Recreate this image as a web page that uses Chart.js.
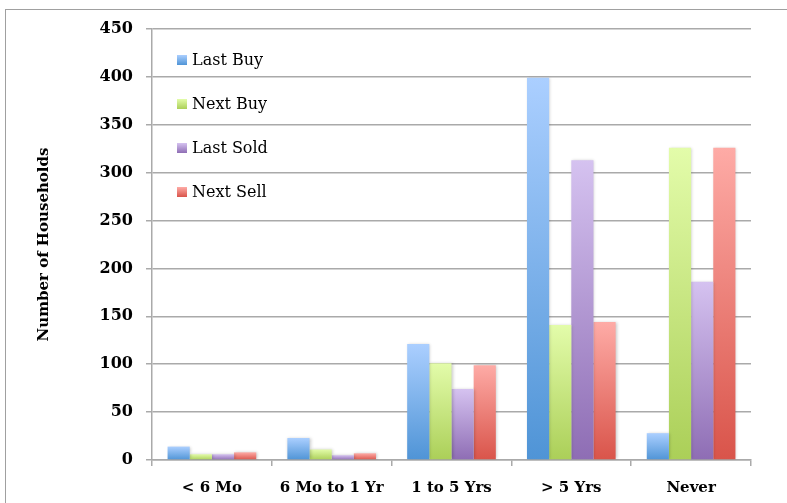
<!DOCTYPE html>
<html>
<head>
<meta charset="utf-8">
<script src="https://cdn.jsdelivr.net/npm/chart.js@4"></script>
<style>
  html, body { margin: 0; padding: 0; background: #fff; overflow: hidden; }
  #wrap { position: relative; width: 787px; height: 503px; }
  #frame { position: absolute; left: 5px; top: 9px; width: 900px; height: 600px; border: 1px solid #a0a0a0; box-sizing: border-box; }
  canvas { position: absolute; left: 0; top: 0; }
</style>
</head>
<body>
<div id="wrap">
  <div id="frame"></div>
  <canvas id="chart" width="787" height="503"></canvas>
</div>
<script>
const categories = ['< 6 Mo', '6 Mo to 1 Yr', '1 to 5 Yrs', '> 5 Yrs', 'Never'];
const lastBuy = [14, 23, 121, 399, 28];
const nextBuy = [6, 11, 101, 141, 326];
const lastSold = [6, 5, 74, 313, 186];
const nextSell = [8, 7, 99, 144, 326];
const seriesNames = ['Last Buy', 'Next Buy', 'Last Sold', 'Next Sell'];
const colorsTop = ['#abcfff', '#e3fcaa', '#d5c2f0', '#feaba6'];
const colorsBottom = ['#4f94d6', '#abcf58', '#8e6db4', '#d9544a'];

const serif = '"DejaVu Serif", serif';

// vertical gradient per bar, light at the top, darker at the base
function barFill(i) {
  return function (c) {
    const chart = c.chart;
    if (!chart.chartArea || c.type !== 'data') return colorsBottom[i];
    const y = chart.scales.y;
    const top = y.getPixelForValue(c.raw);
    const base = y.getPixelForValue(0);
    const g = chart.ctx.createLinearGradient(0, top, 0, base);
    g.addColorStop(0, colorsTop[i]);
    g.addColorStop(1, colorsBottom[i]);
    return g;
  };
}

const barShadow = {
  id: 'barShadow',
  beforeDatasetsDraw(chart) {
    const ctx = chart.ctx;
    ctx.save();
    ctx.shadowColor = 'rgba(0,0,0,0.22)';
    ctx.shadowBlur = 3;
    ctx.shadowOffsetX = 1;
    ctx.shadowOffsetY = 0;
  },
  afterDatasetsDraw(chart) {
    chart.ctx.restore();
  }
};

const insideLegend = {
  id: 'insideLegend',
  afterDraw(chart) {
    const ctx = chart.ctx;
    ctx.save();
    ctx.font = '16px ' + serif;
    ctx.textBaseline = 'middle';
    chart.data.datasets.forEach((ds, i) => {
      const cy = 60 + i * 44;
      const g = ctx.createLinearGradient(0, cy - 5, 0, cy + 5);
      g.addColorStop(0, colorsTop[i]);
      g.addColorStop(1, colorsBottom[i]);
      ctx.fillStyle = g;
      ctx.fillRect(177, cy - 5, 10, 10);
      ctx.fillStyle = '#000';
      ctx.fillText(ds.label, 192, cy + 1);
    });
    ctx.restore();
  }
};

const values = [lastBuy, nextBuy, lastSold, nextSell];

new Chart(document.getElementById('chart').getContext('2d'), {
  type: 'bar',
  data: {
    labels: categories,
    datasets: values.map((v, i) => ({
      label: seriesNames[i],
      data: v,
      backgroundColor: barFill(i),
      borderWidth: 0,
      barPercentage: 1,
      categoryPercentage: 0.74
    }))
  },
  options: {
    responsive: false,
    animation: false,
    layout: { padding: { top: 29, right: 36, bottom: 0, left: 0 } },
    plugins: {
      legend: { display: false },
      tooltip: { enabled: false }
    },
    scales: {
      x: {
        afterFit(s) { s.height = 43; },
        grid: { offset: true, drawOnChartArea: false, drawTicks: true, tickLength: 6, color: '#aaaaaa', lineWidth: 1.5 },
        border: { color: '#aaaaaa', width: 1.5 },
        ticks: { color: '#000', padding: 13, font: { family: serif, size: 15, weight: 'bold' } }
      },
      y: {
        min: 0,
        max: 450,
        afterFit(s) { s.width = 152; },
        ticks: { stepSize: 50, color: '#000', padding: 13, font: { family: serif, size: 16, weight: 'bold' } },
        grid: { color: '#aaaaaa', lineWidth: 1.5, tickLength: 6 },
        border: { color: '#aaaaaa', width: 1.5 },
        title: {
          display: true,
          text: 'Number of Households',
          color: '#000',
          padding: { top: 35 },
          font: { family: serif, size: 15, weight: 'bold' }
        }
      }
    }
  },
  plugins: [barShadow, insideLegend]
});
</script>
</body>
</html>
